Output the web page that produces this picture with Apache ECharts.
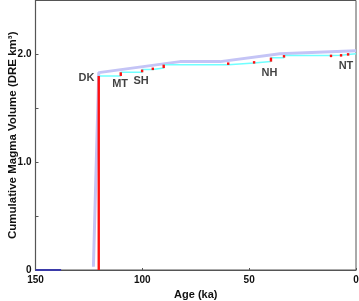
<!DOCTYPE html>
<html><head><meta charset="utf-8">
<script src="https://cdn.jsdelivr.net/npm/echarts@6/dist/echarts.min.js"></script>
<style>html,body{margin:0;padding:0;background:#fff}#c{width:359px;height:301px}</style>
</head><body><div id="c"></div>
<script>
// Eruption ages (ka) and cumulative volume after each eruption (DRE km3)
const eruptionAges = [120.4, 110.1, 100.1, 95.1, 90.0, 59.8, 47.7, 39.8, 33.7, 11.7, 7.0, 3.7];
const cumulativeVolume = [1.80, 1.834, 1.859, 1.873, 1.905, 1.921, 1.933, 1.970, 1.989, 1.993, 1.998, 2.007];
// Smoothed envelope (lavender)
const envelopeAges = [122.9, 120.4, 82.4, 63.6, 35.6, 0];
const envelopeValues = [0.03, 1.831, 1.933, 1.933, 2.007, 2.035];
// Baseline (blue)
const baseAges = [150, 138];
const baseValues = [0, 0];
// Unit labels
const unitNames = ['DK', 'MT', 'SH', 'NH', 'NT'];
const unitAges = [126.1, 110.4, 100.6, 40.5, 4.7];
const unitValues = [1.78, 1.73, 1.753, 1.83, 1.895];
const xTicks = [150, 100, 50, 0];
const yTickLabels = {0: '0', 1: '1.0', 2: '2.0'};

const stepData = eruptionAges.map((a, i) => [a, cumulativeVolume[i]]);
stepData.push([0, cumulativeVolume[cumulativeVolume.length - 1]]);
const redData = eruptionAges.map((a, i) => [a, i === 0 ? 0 : cumulativeVolume[i - 1], cumulativeVolume[i]]);

const font = 'Liberation Sans, Arial, sans-serif';
const chart = echarts.init(document.getElementById('c'), null, {renderer: 'canvas'});
chart.setOption({
  animation: false,
  grid: {left: 35.5, right: 3, top: 0.5, bottom: 31, show: true, borderColor: '#555', borderWidth: 1,
    containLabel: false, outerBoundsMode: 'none'},
  xAxis: {
    type: 'value', min: 0, max: 150, interval: 50, inverse: true,
    name: 'Age (ka)', nameLocation: 'middle', nameGap: 19, nameMoveOverlap: false,
    nameTextStyle: {fontFamily: font, fontWeight: 'bold', fontSize: 11, color: '#111'},
    axisLine: {show: true, onZero: false, lineStyle: {color: '#555', width: 1.2}},
    axisTick: {show: true, inside: true, length: 2, lineStyle: {color: '#555'}},
    axisLabel: {fontFamily: font, fontWeight: 'bold', fontSize: 10, color: '#111', margin: 5,
      formatter: v => xTicks.indexOf(v) >= 0 ? String(v) : ''},
    splitLine: {show: false}
  },
  yAxis: {
    type: 'value', min: 0, max: 2.5, interval: 0.5, position: 'left',
    name: 'Cumulative Magma Volume (DRE km³)', nameLocation: 'middle', nameGap: 17, nameMoveOverlap: false,
    nameTextStyle: {fontFamily: font, fontWeight: 'bold', fontSize: 11.5, color: '#111'},
    axisLine: {show: true, onZero: false, lineStyle: {color: '#555', width: 1.2}},
    axisTick: {show: true, inside: true, length: 3, lineStyle: {color: '#555'}},
    axisLabel: {fontFamily: font, fontWeight: 'bold', fontSize: 10, color: '#111', margin: 4,
      formatter: v => yTickLabels[v] !== undefined ? yTickLabels[v] : ''},
    splitLine: {show: false}
  },
  series: [
    {type: 'line', data: baseAges.map((a, i) => [a, baseValues[i]]), showSymbol: false,
      lineStyle: {color: '#3a3aa8', width: 2}, z: 3},
    {type: 'line', data: envelopeAges.map((a, i) => [a, envelopeValues[i]]), showSymbol: false,
      lineStyle: {color: '#c4c4f6', width: 3}, z: 2},
    {type: 'line', step: 'end', data: stepData, showSymbol: false,
      lineStyle: {color: '#70ffff', width: 1.5}, z: 3},
    {type: 'custom', z: 4, data: redData, encode: {x: 0, y: [1, 2]},
      renderItem: function (params, api) {
        const p0 = api.coord([api.value(0), api.value(1)]);
        const p1 = api.coord([api.value(0), api.value(2)]);
        let top = Math.min(p0[1], p1[1]), h = Math.abs(p0[1] - p1[1]);
        if (h < 2.5) { top = p1[1] - 0.5; h = 2.5; }
        return {type: 'rect', shape: {x: p0[0] - 1.2, y: top, width: 2.4, height: h},
          style: {fill: '#ff1010'}};
      }},
    {type: 'scatter', symbolSize: 0, z: 5,
      data: unitNames.map((n, i) => ({value: [unitAges[i], unitValues[i]], name: n})),
      label: {show: true, position: 'inside', formatter: p => p.name,
        fontFamily: font, fontWeight: 'bold', fontSize: 11, color: '#111'}}
  ]
});
</script></body></html>
